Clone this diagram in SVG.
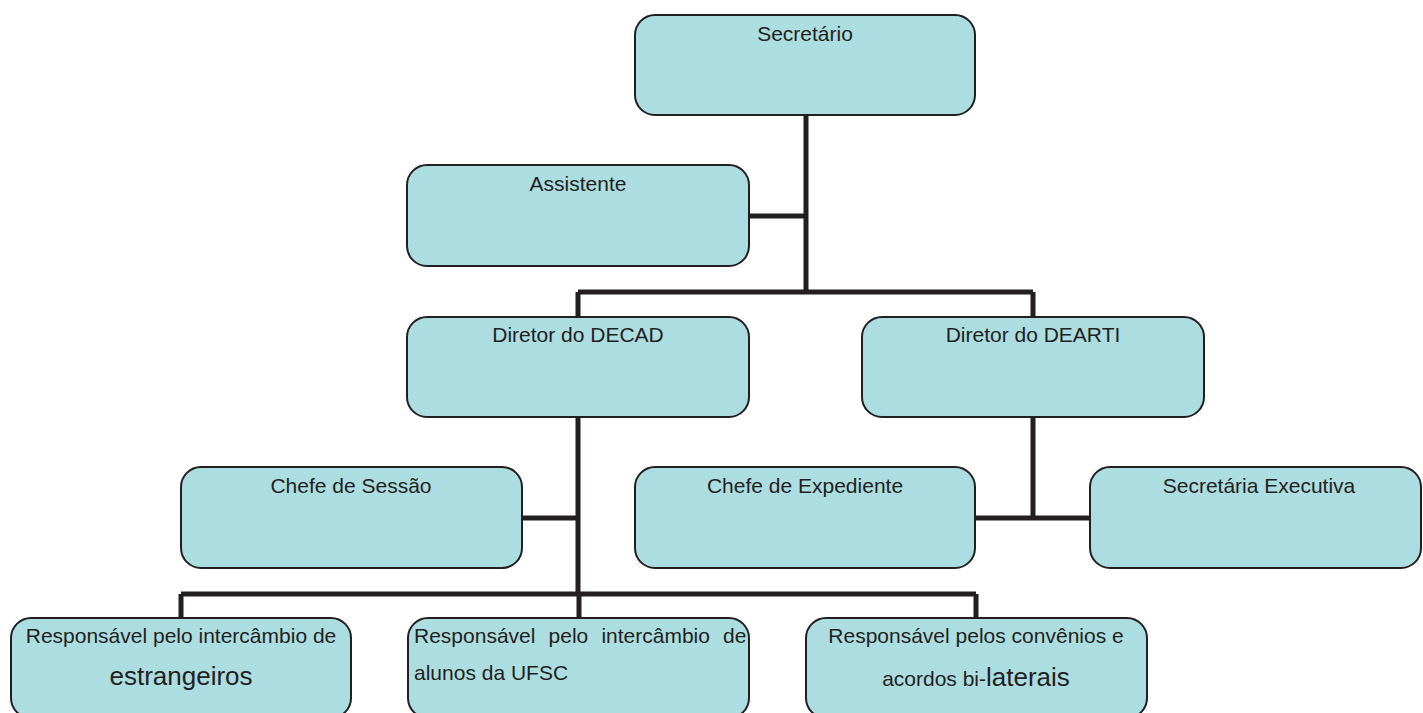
<svg xmlns="http://www.w3.org/2000/svg" width="1423" height="713" viewBox="0 0 1423 713">
<style>
.box{fill:#acdde0;stroke:#231f20;stroke-width:2}
.t{font-family:"Liberation Sans",Arial,sans-serif;font-size:21px;fill:#231f20;text-anchor:middle}
.big{font-size:26px}
.con{fill:none;stroke:#231f20;stroke-width:5}
</style>
<rect width="1423" height="713" fill="#fff"/>
<g id="connectors">
<path class="con" d="M806 115V292M749 216H806M578 292H1033M578 292V317M1033 292V317"/>
<path class="con" d="M578 417V594M522 518H578M181 594H976M181 594V618M579 594V618M976 594V618"/>
<path class="con" d="M1033 417V518M975 518H1090"/>
</g>
<g id="secretario"><rect class="box" x="635" y="15" width="340" height="100" rx="20"/><text class="t" x="805" y="41">Secretário</text></g>
<g id="assistente"><rect class="box" x="407" y="165" width="342" height="101" rx="20"/><text class="t" x="578" y="191">Assistente</text></g>
<g id="decad"><rect class="box" x="407" y="317" width="342" height="100" rx="20"/><text class="t" x="578" y="342">Diretor do DECAD</text></g>
<g id="dearti"><rect class="box" x="862" y="317" width="342" height="100" rx="20"/><text class="t" x="1033" y="342">Diretor do DEARTI</text></g>
<g id="chefe-sessao"><rect class="box" x="181" y="467" width="341" height="101" rx="20"/><text class="t" x="351" y="493">Chefe de Sessão</text></g>
<g id="chefe-expediente"><rect class="box" x="635" y="467" width="340" height="101" rx="20"/><text class="t" x="805" y="493">Chefe de Expediente</text></g>
<g id="secretaria-executiva"><rect class="box" x="1090" y="467" width="331" height="101" rx="20"/><text class="t" x="1259" y="493">Secretária Executiva</text></g>
<g id="resp-estrangeiros"><rect class="box" x="11" y="618" width="340" height="100" rx="20"/><text class="t" x="181" y="643">Responsável pelo intercâmbio de</text><text class="t big" x="181" y="685">estrangeiros</text></g>
<g id="resp-alunos"><rect class="box" x="408" y="618" width="341" height="100" rx="20"/><text class="t" x="414" y="643" style="text-anchor:start" word-spacing="7.3">Responsável pelo intercâmbio de</text><text class="t" x="414" y="680" style="text-anchor:start">alunos da UFSC</text></g>
<g id="resp-convenios"><rect class="box" x="806" y="618" width="341" height="100" rx="20"/><text class="t" x="976" y="643">Responsável pelos convênios e</text><text class="t" x="976" y="686">acordos bi-<tspan class="big">laterais</tspan></text></g>
</svg>
